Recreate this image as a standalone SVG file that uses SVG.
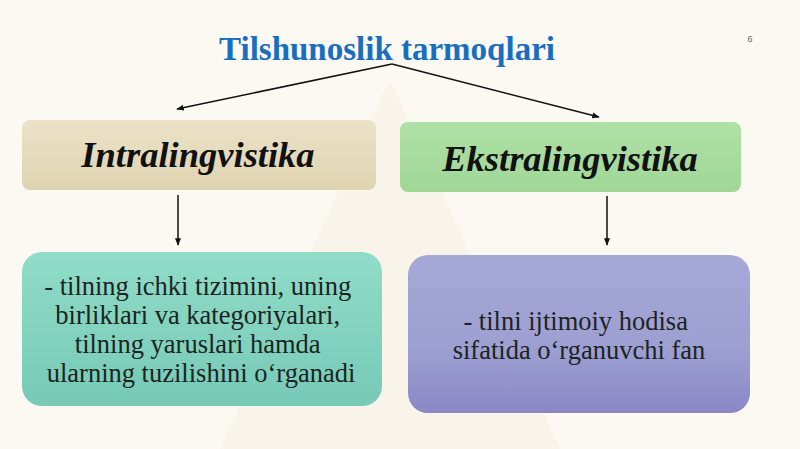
<svg xmlns="http://www.w3.org/2000/svg" width="800" height="449" viewBox="0 0 800 449">
<defs>
<linearGradient id="gTan" x1="0" y1="0" x2="0" y2="1"><stop offset="0" stop-color="#ebe2c8"/><stop offset="1" stop-color="#dfd3b0"/></linearGradient>
<linearGradient id="gGreen" x1="0" y1="0" x2="0" y2="1"><stop offset="0" stop-color="#b0e0a6"/><stop offset="1" stop-color="#9fd796"/></linearGradient>
<linearGradient id="gTeal" x1="0" y1="0" x2="0" y2="1"><stop offset="0" stop-color="#90dcc8"/><stop offset="1" stop-color="#76cab6"/></linearGradient>
<linearGradient id="gPurple" x1="0" y1="0" x2="0" y2="1"><stop offset="0" stop-color="#a6a8d6"/><stop offset="0.6" stop-color="#9d9fd2"/><stop offset="1" stop-color="#8a87c6"/></linearGradient>
<marker id="ah" viewBox="0 0 10 10" refX="9" refY="5" markerWidth="5" markerHeight="5" orient="auto"><path d="M0,1 L10,5 L0,9 z" fill="#111"/></marker>
<style>
.title{font-family:"Liberation Serif",serif;font-weight:bold;font-size:33px;fill:#1a6ec0}
.head{font-family:"Liberation Serif",serif;font-weight:bold;font-style:italic;font-size:36.5px;fill:#111}
.body{font-family:"Liberation Serif",serif;font-size:26.5px;fill:#1c2422}
.conn{stroke:#111;stroke-width:1.5;fill:none}
</style>
</defs>
<rect x="0" y="0" width="800" height="449" fill="#fcf9f3"/>
<path d="M220,449 L390,80 L560,449 z" fill="#f3ede0" opacity="0.45"/>
<text class="title" x="387" y="60" text-anchor="middle">Tilshunoslik tarmoqlari</text>
<text x="750" y="42" font-family="Liberation Sans, sans-serif" font-size="9" fill="#666" text-anchor="middle">6</text>
<g id="connectors">
<line class="conn" x1="392" y1="64" x2="177" y2="109" marker-end="url(#ah)"/>
<line class="conn" x1="392" y1="64" x2="599" y2="117" stroke-width="1.2" marker-end="url(#ah)"/>
<line class="conn" x1="178" y1="195" x2="178" y2="245" marker-end="url(#ah)"/>
<line class="conn" x1="607" y1="196" x2="607" y2="245" marker-end="url(#ah)"/>
</g>
<g id="intra">
<rect x="22" y="120" width="354" height="70" rx="8" fill="url(#gTan)"/>
<text class="head" x="198" y="167" text-anchor="middle">Intralingvistika</text>
</g>
<g id="ekstra">
<rect x="400" y="122" width="341" height="70" rx="8" fill="url(#gGreen)"/>
<text class="head" x="570" y="171" text-anchor="middle" fill="#0f1a0f">Ekstralingvistika</text>
</g>
<g id="intra-desc">
<rect x="22" y="252" width="360" height="154" rx="20" fill="url(#gTeal)"/>
<text class="body" text-anchor="middle">
<tspan x="201" y="295">- tilning ichki tizimini, uning</tspan>
<tspan x="201" y="324">birliklari va kategoriyalari,</tspan>
<tspan x="201" y="353">tilning yaruslari hamda</tspan>
<tspan x="201" y="382">ularning tuzilishini o‘rganadi</tspan>
</text>
</g>
<g id="ekstra-desc">
<rect x="408" y="255" width="342" height="158" rx="20" fill="url(#gPurple)"/>
<text class="body" text-anchor="middle" fill="#1a1a2e">
<tspan x="579" y="330">- tilni ijtimoiy hodisa</tspan>
<tspan x="579" y="359">sifatida o‘rganuvchi fan</tspan>
</text>
</g>
</svg>
